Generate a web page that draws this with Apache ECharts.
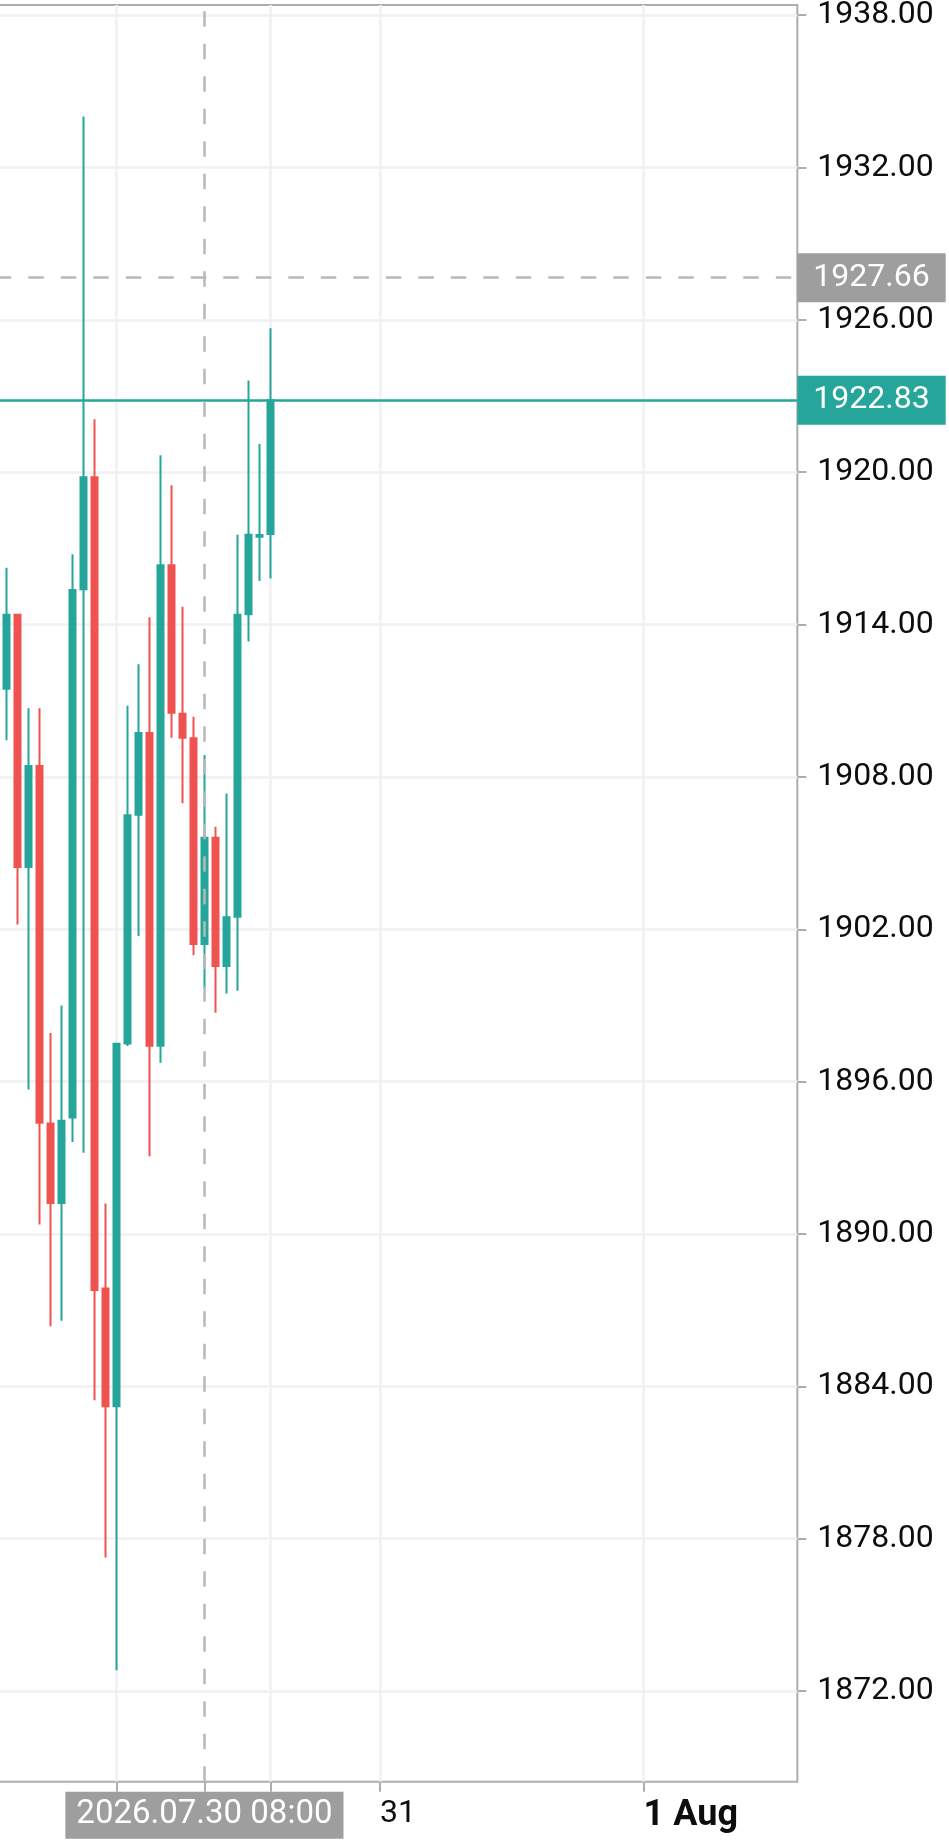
<!DOCTYPE html>
<html>
<head>
<meta charset="utf-8">
<script src="https://cdn.jsdelivr.net/npm/echarts@6/dist/echarts.min.js"></script>
<style>
html,body{margin:0;padding:0;background:#ffffff;}
#chart{width:949px;height:1847px;}
</style>
</head>
<body>
<div id="chart"></div>
<script>
// ---- data (hourly candles) ----
const firstCandleTime = '2026.07.29 14:00';
const opens  = [1911.47,1914.39,1904.45,1908.43,1894.35,1891.22,1894.59,1915.39,1919.80,1887.85,1883.22,1897.50,1906.51,1909.73,1897.41,1916.34,1910.49,1909.52,1901.42,1905.60,1900.55,1902.49,1914.41,1917.46,1917.57];
const closes = [1914.39,1904.45,1908.43,1894.38,1891.22,1894.46,1915.36,1919.80,1887.79,1883.22,1897.49,1906.49,1909.73,1897.41,1916.34,1910.53,1909.54,1901.42,1905.60,1900.55,1902.47,1914.39,1917.54,1917.53,1922.83];
const lows   = [1909.44,1902.19,1895.69,1890.37,1886.37,1886.58,1893.62,1893.20,1883.45,1877.26,1872.82,1897.40,1901.74,1893.06,1896.74,1909.54,1906.96,1900.98,1899.68,1898.71,1899.47,1899.58,1913.33,1915.72,1915.81];
const highs  = [1916.24,1914.40,1910.70,1910.70,1897.92,1899.00,1916.77,1934.01,1922.09,1891.20,1897.49,1910.80,1912.44,1914.29,1920.67,1919.49,1914.70,1910.37,1908.86,1906.04,1907.35,1917.54,1923.61,1921.11,1925.67];

const yTicks = [1872,1878,1884,1890,1896,1902,1908,1914,1920,1926,1932,1938];
const xGridTimes  = ['2026.07.30 00:00','2026.07.30 14:00','2026.07.31 00:00','2026.08.01 00:00'];
const xLabelTimes = ['2026.07.31 00:00','2026.08.01 00:00'];
const xLabelTexts = ['31','1 Aug'];
const lastPrice  = 1922.83;
const crossPrice = 1927.66;
const crossTime  = '2026.07.30 08:00';
const yMin = 1868.43, yMax = 1938.40;

// ---- hourly axis slots ----
function fmt(ms){
  const d = new Date(ms);
  const p = n => String(n).padStart(2,'0');
  return d.getUTCFullYear()+'.'+p(d.getUTCMonth()+1)+'.'+p(d.getUTCDate())+' '+p(d.getUTCHours())+':'+p(d.getUTCMinutes());
}
const axisStart = Date.UTC(2026,6,29,13);
const categories = [];
for (let k = 0; k < 74; k++) categories.push(fmt(axisStart + k*3600000));
const firstIdx = categories.indexOf(firstCandleTime);
const candleData = categories.map((c, k) => {
  const i = k - firstIdx;
  return (i >= 0 && i < opens.length) ? [opens[i], closes[i], lows[i], highs[i]] : ['-','-','-','-'];
});
const xTickTimes = xGridTimes.concat([crossTime]);

const FONT = 'Roboto';
const AXIS_GRAY = '#adadad';
const GRID_COLOR = '#f0f1f4';
const CROSS_GRAY = '#b8b8b8';
const UP = '#26a69a', DOWN = '#ef5350';

const chart = echarts.init(document.getElementById('chart'));
chart.setOption({
  animation: false,
  backgroundColor: '#ffffff',
  textStyle: { fontFamily: FONT },
  grid: {
    left: -4.2, top: 5, width: 801.54, height: 1776.7,
    containLabel: false, outerBoundsMode: 'none',
    show: true, borderColor: AXIS_GRAY, borderWidth: 2, backgroundColor: 'transparent'
  },
  xAxis: {
    type: 'category',
    data: categories,
    boundaryGap: false,
    axisLine: { show: false },
    axisTick: {
      show: true, length: 10,
      interval: (i, v) => xTickTimes.indexOf(v) >= 0,
      lineStyle: { color: AXIS_GRAY, width: 2 }
    },
    axisLabel: {
      show: true,
      interval: (i, v) => xLabelTimes.indexOf(v) >= 0,
      formatter: v => {
        const j = xLabelTimes.indexOf(v);
        if (j < 0) return '';
        return j === 1 ? '{b|' + xLabelTexts[j] + '}' : xLabelTexts[j];
      },
      align: 'left', margin: 16,
      color: '#0d0d0d', fontSize: 32, fontFamily: FONT,
      rich: { b: { fontWeight: 'bold', fontSize: 36, fontFamily: FONT, color: '#0d0d0d' } }
    },
    splitLine: {
      show: true,
      interval: (i, v) => xGridTimes.indexOf(v) >= 0,
      lineStyle: { color: GRID_COLOR, width: 2.5 }
    }
  },
  yAxis: {
    type: 'value',
    position: 'right',
    min: yMin, max: yMax,
    axisLine: { show: false },
    axisTick: { show: true, length: 9, customValues: yTicks, lineStyle: { color: AXIS_GRAY, width: 2 } },
    axisLabel: {
      customValues: yTicks,
      formatter: v => Number(v).toFixed(2),
      margin: 20, color: '#0d0d0d', fontSize: 32, fontFamily: FONT
    },
    splitLine: { show: false }
  },
  series: [
    {
      name: 'grid', type: 'line', data: [], silent: true, z: 1,
      markLine: {
        silent: true, symbol: 'none', z: 1, animation: false,
        label: { show: false },
        lineStyle: { color: GRID_COLOR, width: 2.5, type: 'solid' },
        data: yTicks.map(v => ({ yAxis: v }))
      }
    },
    {
      name: 'price', type: 'candlestick', data: candleData, z: 2,
      barWidth: 6.5,
      itemStyle: { color: UP, color0: DOWN, borderColor: UP, borderColor0: DOWN, borderWidth: 2 }
    },
    {
      name: 'overlay', type: 'line', data: [], silent: true, z: 10,
      markLine: {
        silent: true, symbol: 'none', z: 10, animation: false,
        data: [
          {
            yAxis: lastPrice,
            lineStyle: { color: UP, width: 2.5, type: 'solid' },
            label: {
              show: true, position: 'end', distance: 0, formatter: lastPrice.toFixed(2),
              color: '#ffffff', backgroundColor: UP, fontSize: 32, lineHeight: 32, fontFamily: FONT,
              padding: [8, 16, 9, 16]
            }
          },
          {
            yAxis: crossPrice,
            lineStyle: { color: CROSS_GRAY, width: 2.5, type: [15.5, 17] },
            label: {
              show: true, position: 'end', distance: 0, formatter: crossPrice.toFixed(2),
              color: '#ffffff', backgroundColor: '#9e9e9e', fontSize: 32, lineHeight: 32, fontFamily: FONT,
              padding: [8, 16, 9, 16]
            }
          },
          {
            xAxis: crossTime,
            lineStyle: { color: CROSS_GRAY, width: 2.5, type: [15.5, 17] },
            label: {
              show: true, position: 'start', distance: 10, formatter: crossTime,
              color: '#ffffff', backgroundColor: '#9e9e9e', fontSize: 33, lineHeight: 32, fontFamily: FONT,
              padding: [7, 11, 8, 11]
            }
          }
        ]
      }
    }
  ]
});
</script>
</body>
</html>
